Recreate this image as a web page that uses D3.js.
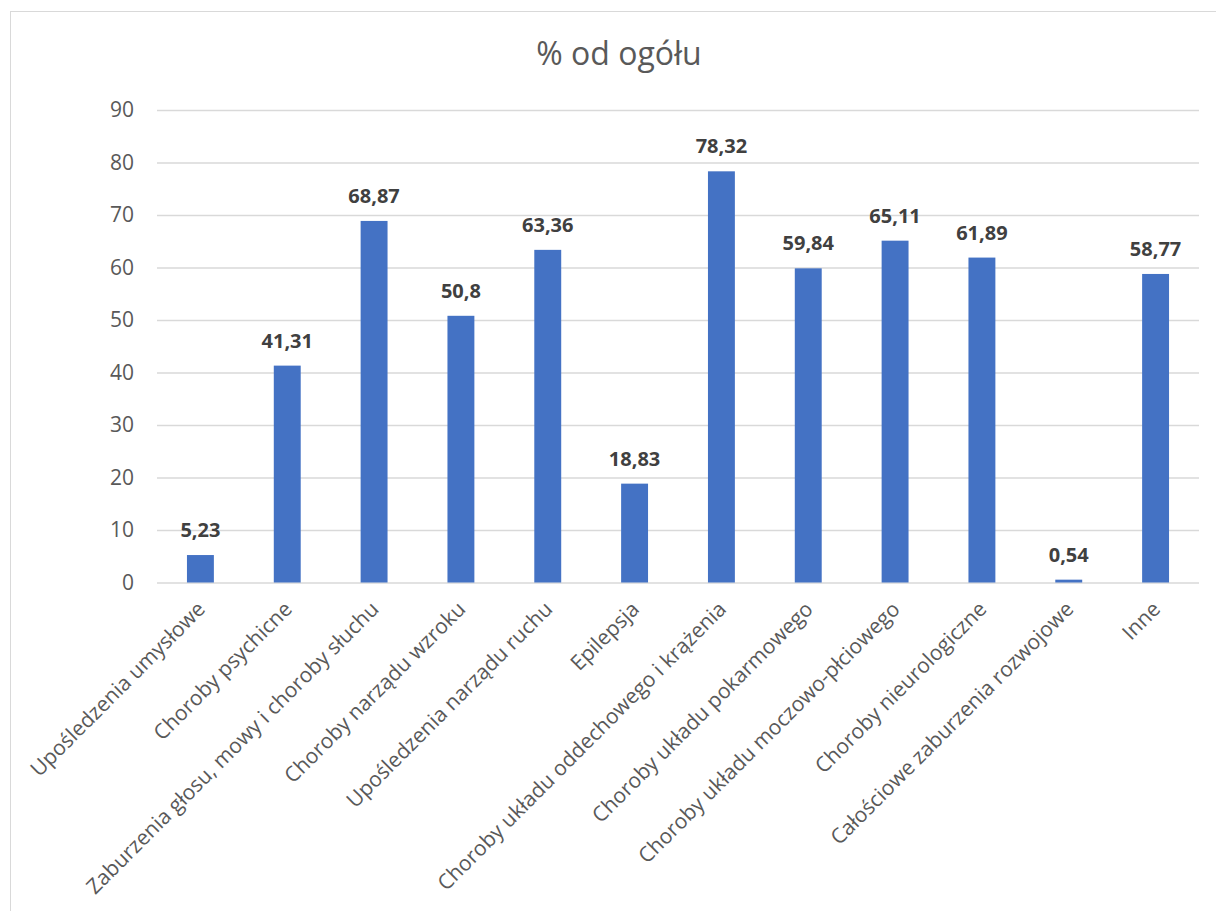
<!DOCTYPE html>
<html><head><meta charset="utf-8">
<script src="https://cdn.jsdelivr.net/npm/d3@7"></script>
<style>body{margin:0;background:#fff;} svg{display:block;}</style>
</head><body>
<script>
const categories = ["Upośledzenia umysłowe","Choroby psychicne","Zaburzenia głosu, mowy i choroby słuchu","Choroby narządu wzroku","Upośledzenia narządu ruchu","Epilepsja","Choroby układu oddechowego i krążenia","Choroby układu pokarmowego","Choroby układu moczowo-płciowego","Choroby nieurologiczne","Całościowe zaburzenia rozwojowe","Inne"];
const values = [5.23,41.31,68.87,50.8,63.36,18.83,78.32,59.84,65.11,61.89,0.54,58.77];
const valueLabels = ["5,23","41,31","68,87","50,8","63,36","18,83","78,32","59,84","65,11","61,89","0,54","58,77"];
const yTicks = [0,10,20,30,40,50,60,70,80,90];
const title = "% od ogółu";

const W=1216,H=911;
const font='"Open Sans", "Noto Sans", sans-serif';
const svg=d3.select("body").append("svg").attr("width",W).attr("height",H);
svg.append("rect").attr("x",10.5).attr("y",11.5).attr("width",1215).attr("height",910).attr("fill","#fff").attr("stroke","#d9d9d9");

const x=d3.scaleBand().domain(categories).range([157,1199]).paddingInner(0.69).paddingOuter(0.345);
const y=d3.scaleLinear().domain([0,90]).range([582.5,110]);

svg.append("text").attr("x",619).attr("y",65).attr("text-anchor","middle").attr("font-family",font).attr("font-size",32).attr("fill","#595959").text(title);

const ga=svg.append("g").attr("transform","translate(157,0)").call(d3.axisLeft(y).tickValues(yTicks).tickSize(-(1199-157)).tickFormat(d3.format("d")));
ga.select(".domain").remove();
ga.selectAll(".tick line").attr("stroke","#d9d9d9").attr("stroke-width",1.3);
ga.selectAll(".tick text").attr("x",-23).attr("font-family",font).attr("font-size",21).attr("fill","#595959");

svg.selectAll("rect.bar").data(values).join("rect").attr("class","bar")
 .attr("x",(d,i)=>x(categories[i])).attr("width",x.bandwidth())
 .attr("y",d=>y(d)).attr("height",d=>y(0)-y(d)).attr("fill","#4472c4");

svg.selectAll("text.val").data(values).join("text").attr("class","val")
 .attr("x",(d,i)=>x(categories[i])+x.bandwidth()/2).attr("y",d=>y(d)-18)
 .attr("text-anchor","middle").attr("font-family",font).attr("font-weight","bold").attr("font-size",20).attr("fill","#404040")
 .text((d,i)=>valueLabels[i]);

const gx=svg.append("g").attr("transform","translate(0,582.5)").call(d3.axisBottom(x).tickSize(0));
gx.select(".domain").remove();
gx.selectAll(".tick text").attr("font-family",font).attr("font-size",21).attr("fill","#595959")
 .attr("text-anchor","end").attr("dy",0).attr("y",0)
 .attr("transform","translate(6,28) rotate(-45)");
</script>
</body></html>
